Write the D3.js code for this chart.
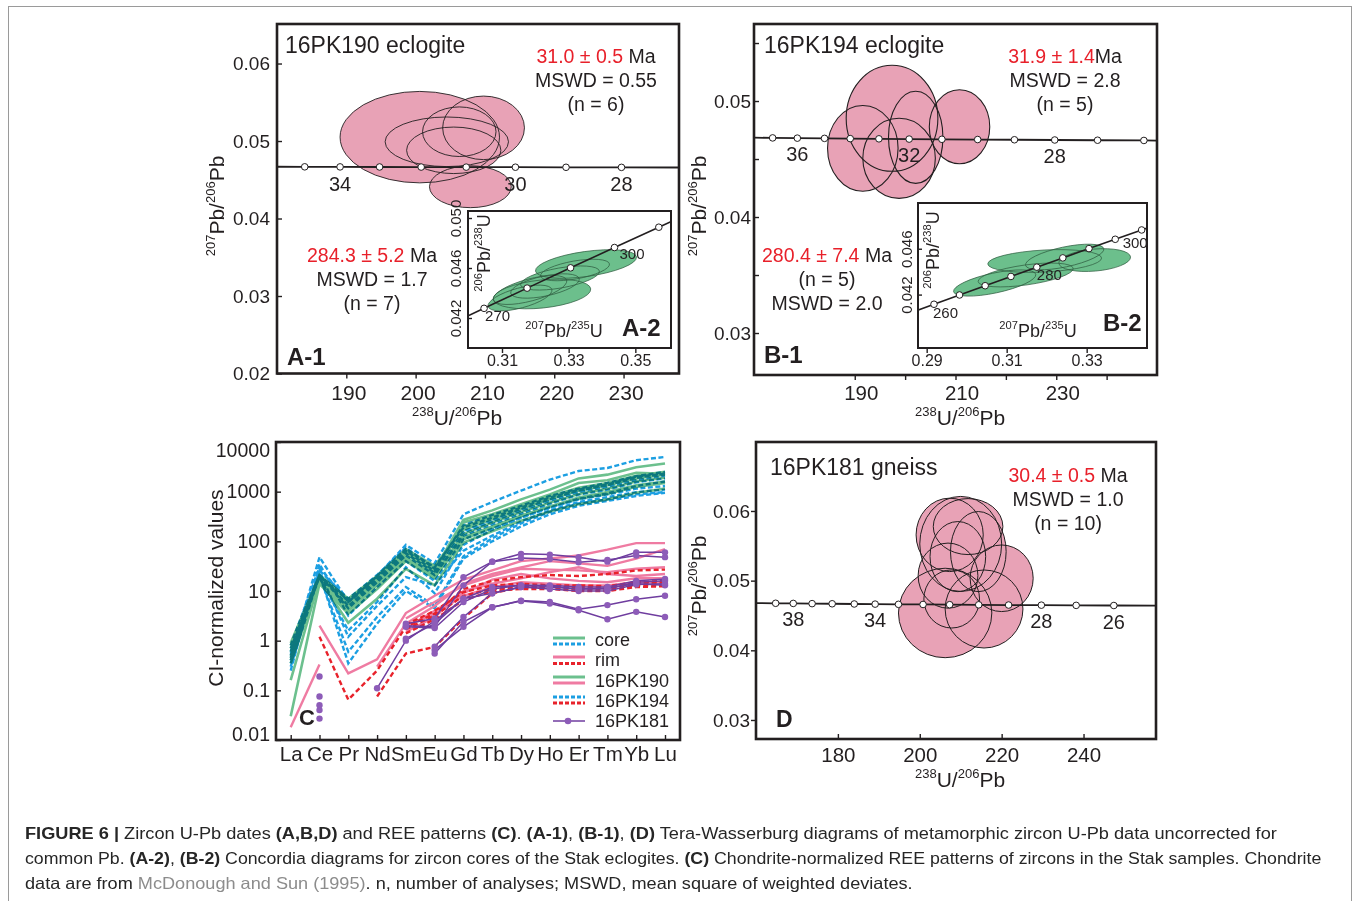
<!DOCTYPE html>
<html><head><meta charset="utf-8">
<script src="https://cdn.jsdelivr.net/npm/d3@7/dist/d3.min.js"></script>
<style>html,body{margin:0;padding:0;background:#fff;}svg{display:block;}</style>
</head><body>
<svg id="fig" width="1354" height="901"></svg>
<script>
// ======================= DATA =======================
// ---- Panel A-1 : 16PK190 eclogite, Tera-Wasserburg ----
const a1XTicks = [190, 200, 210, 220, 230];
const a1YTicks = [0.02, 0.03, 0.04, 0.05, 0.06];
const a1ConcX = [180.0, 184.0, 189.1, 194.8, 200.8, 207.3, 214.4, 221.7, 229.7, 238.0];
const a1ConcY = [0.04668, 0.04667, 0.04666, 0.04665, 0.04664, 0.04663, 0.04662, 0.04661, 0.04660, 0.04658];
const a1ConcAge = [null, 35, 34, 33, 32, 31, 30, 29, 28, null];
const a1AgeLabels = [34, 30, 28];
const a1EllX  = [200.6, 209.8, 204.5, 206.3, 205.5, 207.9];
const a1EllY  = [0.0505, 0.0517, 0.0499, 0.0512, 0.0488, 0.0441];
const a1EllSx = [11.5, 5.9, 8.9, 5.3, 6.8, 5.9];
const a1EllSy = [0.0059, 0.0041, 0.0032, 0.0032, 0.0030, 0.0027];
const a1Texts = ['16PK190 eclogite', '31.0 ± 0.5', ' Ma', 'MSWD = 0.55', '(n = 6)'];

// ---- Panel A-2 : 16PK190 concordia (inset) ----
const a2XTicks = [0.31, 0.33, 0.35];
const a2YTicks = [0.042, 0.046, 0.050];
const a2ConcX = [0.29183, 0.30462, 0.31753, 0.33057, 0.34374, 0.35704, 0.37047];
const a2ConcY = [0.041157, 0.042773, 0.044392, 0.046013, 0.047638, 0.049263, 0.050893];
const a2ConcAge = [null, 270, 280, 290, 300, 310, null];
const a2AgeLabels = [270, 300];
const a2EllX  = [0.3352, 0.3220, 0.3229, 0.3274, 0.3184, 0.3319, 0.3154];
const a2EllY  = [0.04632, 0.04392, 0.04456, 0.04520, 0.04424, 0.04584, 0.04360];
const a2EllSx = [0.0153, 0.0147, 0.0105, 0.0120, 0.0114, 0.0105, 0.0099];
const a2EllSy = [0.00100, 0.00112, 0.00080, 0.00080, 0.00088, 0.00072, 0.00080];
const a2EllRot = [-8, -6, -12, -10, -15, -10, -15];
const a2Texts = ['284.3 ± 5.2', ' Ma', 'MSWD = 1.7', '(n = 7)'];

// ---- Panel B-1 : 16PK194 eclogite ----
const b1XTicks = [190, 200, 210, 220, 230, 240];
const b1XLabels = [190, 210, 230];
const b1YTicks = [0.03, 0.035, 0.04, 0.045, 0.05, 0.055];
const b1YLabels = [0.03, 0.04, 0.05];
const b1ConcX = [170.0, 173.7, 178.6, 184.0, 189.1, 194.8, 200.8, 207.3, 214.4, 221.7, 229.7, 238.2, 247.4, 250.0];
const b1ConcY = [0.04684, 0.04682, 0.04680, 0.04678, 0.04676, 0.04674, 0.04672, 0.04670, 0.04668, 0.04666, 0.04664, 0.04662, 0.04660, 0.04658];
const b1ConcAge = [null, 37, 36, 35, 34, 33, 32, 31, 30, 29, 28, 27, 26, null];
const b1AgeLabels = [36, 32, 28];
const b1EllX  = [197.4, 191.6, 198.8, 202.1, 210.8];
const b1EllY  = [0.04851, 0.04592, 0.04506, 0.04687, 0.04778];
const b1EllSx = [9.1, 7.0, 7.2, 5.4, 6.0];
const b1EllSy = [0.00457, 0.00370, 0.00345, 0.00397, 0.00319];
const b1Texts = ['16PK194 eclogite', '31.9 ± 1.4', 'Ma', 'MSWD = 2.8', '(n = 5)'];

// ---- Panel B-2 : 16PK194 concordia (inset) ----
const b2XTicks = [0.29, 0.31, 0.33];
const b2YTicks = [0.042, 0.046];
const b2ConcX = [0.27917, 0.29183, 0.29821, 0.30462, 0.31106, 0.31753, 0.32403, 0.33057, 0.33714, 0.34374, 0.35704];
const b2ConcY = [0.039543, 0.041157, 0.041965, 0.042773, 0.043582, 0.044392, 0.045202, 0.046013, 0.046825, 0.047638, 0.049263];
const b2ConcAge = [null, 260, 265, 270, 275, 280, 285, 290, 295, 300, null];
const b2AgeLabels = [260, 280, 300];
const b2EllX  = [0.3195, 0.3320, 0.3070, 0.31475, 0.3245];
const b2EllY  = [0.04493, 0.04501, 0.04301, 0.04371, 0.04528];
const b2EllSx = [0.01425, 0.0090, 0.0105, 0.0120, 0.0100];
const b2EllSy = [0.00096, 0.00096, 0.00087, 0.00087, 0.00087];
const b2EllRot = [-3, -5, -12, -8, -12];
const b2Texts = ['280.4 ± 7.4', ' Ma', '(n = 5)', 'MSWD = 2.0'];

// ---- Panel D : 16PK181 gneiss ----
const dXTicks = [180, 200, 220, 240];
const dYTicks = [0.03, 0.04, 0.05, 0.06];
const dConcX = [160.0, 164.8, 169.1, 173.7, 178.6, 184.0, 189.1, 194.8, 200.8, 207.3, 214.4, 221.7, 229.7, 238.2, 247.4, 257.7];
const dConcY = [0.04678, 0.04675, 0.04673, 0.04670, 0.04668, 0.04665, 0.04663, 0.04660, 0.04658, 0.04655, 0.04653, 0.04650, 0.04648, 0.04645, 0.04643, 0.04640];
const dConcAge = [null, 39, 38, 37, 36, 35, 34, 33, 32, 31, 30, 29, 28, 27, 26, null];
const dAgeLabels = [38, 34, 28, 26];
const dEllX  = [206.2, 215.7, 220.0, 207.3, 210.0, 214.3, 206.9, 209.3, 207.8, 211.8];
const dEllY  = [0.04536, 0.04593, 0.05034, 0.05657, 0.05527, 0.05417, 0.05072, 0.05345, 0.04737, 0.05776];
const dEllSx = [11.4, 9.5, 7.7, 8.2, 10.0, 6.8, 7.3, 6.8, 6.8, 8.5];
const dEllSy = [0.00642, 0.00560, 0.00478, 0.00527, 0.00682, 0.00575, 0.00467, 0.00503, 0.00417, 0.00402];
const dTexts = ['16PK181 gneiss', '30.4 ± 0.5', ' Ma', 'MSWD = 1.0', '(n = 10)'];

// ---- Panel C : chondrite-normalised REE ----
const reeElements = ['La','Ce','Pr','Nd','Sm','Eu','Gd','Tb','Dy','Ho','Er','Tm','Yb','Lu'];
const reeYTicks = [0.01, 0.1, 1, 10, 100, 1000, 10000];
const reeYTickLabels = ['0.01', '0.1', '1', '10', '100', '1000', '10000'];
const core190 = [
  [0.16, 17, 2.3, 7, 28, 13, 95, 160, 260, 400, 560, 700, 950, 1150],
  [0.03, 14, 3.5, 11, 40, 18, 120, 200, 330, 500, 720, 900, 1250, 1500],
  [0.6, 19, 6, 18, 62, 27, 270, 420, 700, 1100, 1850, 2200, 3100, 3700],
  [0.5, 18, 5, 16, 55, 24, 240, 350, 560, 880, 1500, 1700, 2400, 2300],
  [0.7, 20, 6.5, 19, 65, 30, 170, 280, 450, 700, 1050, 1350, 1850, 2200],
  [0.4, 17, 4.5, 14, 48, 21, 140, 240, 390, 600, 900, 1150, 1600, 1900],
  [0.9, 21, 7, 20, 70, 32, 190, 310, 500, 780, 1150, 1450, 2000, 2400],
  [0.35, 16, 4, 13, 45, 19, 110, 190, 320, 500, 760, 980, 1350, 1600],
  [0.45, 18, 5.5, 17, 58, 26, 180, 290, 470, 740, 1100, 1400, 1900, 2300],
  [0.8, 19, 6, 17, 60, 25, 200, 320, 520, 800, 1200, 1500, 2100, 2500]
];
const core194 = [
  [0.5, 48, 6, 20, 85, 36, 350, 620, 1050, 1750, 2600, 3000, 4300, 5000],
  [0.4, 25, 1.2, 5, 19, 13, 65, 130, 250, 420, 620, 780, 980, 1100],
  [0.3, 22, 0.35, 2.2, 10, 4.5, 45, 100, 200, 350, 520, 650, 820, 950],
  [0.6, 20, 0.6, 3, 12, 5, 50, 115, 230, 390, 580, 700, 880, 980],
  [0.8, 30, 6, 17, 65, 25, 160, 270, 440, 700, 1050, 1350, 1900, 2300],
  [0.45, 21, 4.5, 15, 52, 21, 130, 220, 360, 570, 870, 1100, 1550, 1850],
  [0.35, 26, 7, 21, 75, 28, 210, 340, 520, 820, 1150, 1500, 2050, 2500],
  [0.55, 19, 1.6, 6, 30, 9, 85, 170, 300, 480, 700, 880, 1150, 1300],
  [0.25, 35, 3.2, 12, 40, 16, 110, 180, 300, 470, 720, 920, 1300, 1600],
  [0.6, 22, 5, 16, 58, 23, 150, 250, 410, 650, 980, 1250, 1700, 2100],
  [0.7, 20, 6.5, 19, 68, 30, 190, 300, 480, 760, 1100, 1400, 2000, 2300]
];
const rim190 = [
  [0.018, 0.33, null, null, null, null, null, null, null, null, null, null, null, null],
  [null, 2.0, 0.22, 0.42, 3.6, 8, 17, 26, 40, 45, 52, 68, 92, 92],
  [null, null, null, 0.3, 2.2, 5, 14, 22, 30, 40, 36, 32, 45, 70],
  [null, null, null, null, 2.8, 6, 13, 20, 28, 27, 26, 24, 28, 30],
  [null, null, null, null, 1.8, 4, 9, 17, 22, 18, 16, 15, 18, 18],
  [null, null, null, null, 2.0, 3.5, 8, 12, 15, 14, 13, 13, 15, 15],
  [null, null, null, null, 1.5, 3, 10, 14, 18, 24, 30, 22, 20, 22]
];
const rim194 = [
  [null, 1.2, 0.065, 0.25, 1.9, 3.5, 11, 16, 19, 21, 20, 22, 26, 27],
  [null, null, null, 0.075, 0.55, 0.75, 2.8, 9, 12, 12, 11, 11, 13, 13],
  [null, null, null, null, 1.7, 3.2, 8, 11, 12, 12, 12, 12, 14, 15],
  [null, null, null, null, 1.4, 2.7, 6.5, 10, 11, 11, 10, 10, 12, 12.5],
  [null, null, null, null, 2.1, 4, 9.5, 13, 14, 13, 13, 12.5, 15, 16]
];
const gneiss181 = [
  [null, 0.19, null, null, 2.2, 2.8, 19, 39, 56, 54, 48, 39, 60, 60],
  [null, 0.075, null, null, 2.0, 1.9, 13, 39, 46, 44, 38, 42, 52, 48],
  [null, 0.05, null, null, 1.1, 2.2, 7, 12, 13, 13, 12, 12, 16, 17.5],
  [null, 0.04, null, 0.11, 1.0, 2.5, 7, 9, 12, 11, 10, 10, 13.5, 14],
  [null, 0.027, null, null, null, 0.76, 3, 9, 12, 12, 11, 11, 15, 16],
  [null, null, null, null, null, 0.55, 2.4, 4.7, 6.4, 6, 4.3, 5.2, 6.8, 8],
  [null, null, null, null, null, 0.65, 1.9, 4.7, 6.3, 5.6, 4.1, 2.7, 3.8, 3.0],
  [null, null, null, null, 1.9, 1.8, 6, 11, 13, 12.5, 11, 11.5, 14, 13]
];
const legendLabels = ['core', 'rim', '16PK190', '16PK194', '16PK181'];

// caption
const captionLines = [
  [['FIGURE 6 |', 'b'], [' Zircon U-Pb dates ', ''], ['(A,B,D)', 'b'], [' and REE patterns ', ''], ['(C)', 'b'], ['. ', ''], ['(A-1)', 'b'], [', ', ''], ['(B-1)', 'b'], [', ', ''], ['(D)', 'b'], [' Tera-Wasserburg diagrams of metamorphic zircon U-Pb data uncorrected for', '']],
  [['common Pb. ', ''], ['(A-2)', 'b'], [', ', ''], ['(B-2)', 'b'], [' Concordia diagrams for zircon cores of the Stak eclogites. ', ''], ['(C)', 'b'], [' Chondrite-normalized REE patterns of zircons in the Stak samples. Chondrite', '']],
  [['data are from ', ''], ['McDonough and Sun (1995)', 'g'], ['. n, number of analyses; MSWD, mean square of weighted deviates.', '']]
];
const captionWidths = [1253, 1297, 888];

// ======================= DRAW =======================
const svg = d3.select('#fig');
const FONT = '"Liberation Sans", Arial, Helvetica, sans-serif';
svg.attr('font-family', FONT);
const INK = '#231f20', RED = '#e8202a', PINK_FILL = '#e8a2b6', GREEN_FILL = '#6cbf8c';
const C_GREEN = '#6cc08e', C_BLUE = '#1c9fe2', C_PINK = '#ef7ba2', C_RED = '#e8222b', C_PURPLE = '#6f3d9f', C_PURPLE_DOT = '#8d5cb8';

svg.append('rect').attr('x', 8.5).attr('y', 6.5).attr('width', 1343).attr('height', 910)
  .attr('fill', 'none').attr('stroke', '#9a9a9a').attr('stroke-width', 1);

function isoText(g, x, y, parts, fs, rotate) {
  const t = g.append('text').attr('x', x).attr('y', y).attr('font-size', fs).attr('fill', INK)
    .attr('text-anchor', 'middle');
  if (rotate) t.attr('transform', `rotate(-90 ${x} ${y})`);
  const supFs = fs * 0.62, rise = fs * 0.42;
  let cur = 0;
  parts.forEach(([s, sup]) => {
    const target = sup ? -rise : 0;
    t.append('tspan').attr('font-size', sup ? supFs : fs).attr('dy', target - cur).text(s);
    cur = target;
  });
  return t;
}

function styleAxis(sel, fs) {
  sel.select('.domain').remove();
  sel.attr('font-family', null).attr('font-size', null);
  sel.selectAll('line').attr('stroke', INK).attr('stroke-width', 1.4);
  sel.selectAll('text').attr('fill', INK).attr('font-size', fs).attr('font-family', FONT);
}

function drawEllipses(g, x, y, ex, ey, esx, esy, erot, fill, stroke, sw) {
  const data = ex.map((d, i) => ({ cx: d, cy: ey[i], sx: esx[i], sy: esy[i], r: erot ? erot[i] : 0 }));
  const mk = () => g.append('g').selectAll('ellipse').data(data).join('ellipse')
    .attr('cx', d => x(d.cx)).attr('cy', d => y(d.cy))
    .attr('rx', d => Math.abs(x(d.cx + d.sx) - x(d.cx)))
    .attr('ry', d => Math.abs(y(d.cy + d.sy) - y(d.cy)))
    .attr('transform', d => `rotate(${d.r} ${x(d.cx)} ${y(d.cy)})`);
  mk().attr('fill', fill).attr('stroke', 'none');
  mk().attr('fill', 'none').attr('stroke', stroke).attr('stroke-width', sw);
}

function drawConcordia(g, x, y, cx, cy, ages, labelAges, labelPos, r, fs, lw) {
  const line = d3.line().x((d, i) => x(cx[i])).y((d, i) => y(cy[i]));
  g.append('path').attr('d', line(cx)).attr('fill', 'none').attr('stroke', INK).attr('stroke-width', lw);
  const pts = cx.map((d, i) => ({ x: d, y: cy[i], age: ages[i] })).filter(d => d.age != null);
  g.append('g').selectAll('circle').data(pts).join('circle')
    .attr('cx', d => x(d.x)).attr('cy', d => y(d.y)).attr('r', r)
    .attr('fill', '#fff').attr('stroke', INK).attr('stroke-width', 1);
  const lab = pts.filter(d => labelAges.includes(d.age));
  g.append('g').selectAll('text').data(lab).join('text')
    .attr('x', (d, i) => x(d.x) + labelPos(i)[0]).attr('y', (d, i) => y(d.y) + labelPos(i)[1])
    .attr('text-anchor', (d, i) => labelPos(i)[2]).attr('font-size', fs).attr('fill', INK)
    .text(d => d.age);
}

function frame(g, L, T, R, B, sw, fill) {
  return g.append('rect').attr('x', L).attr('y', T).attr('width', R - L).attr('height', B - T)
    .attr('fill', fill || 'none').attr('stroke', INK).attr('stroke-width', sw);
}

function clip(g, id, L, T, R, B) {
  svg.append('clipPath').attr('id', id).append('rect').attr('x', L).attr('y', T).attr('width', R - L).attr('height', B - T);
  return g.append('g').attr('clip-path', `url(#${id})`);
}

function ageBlock(g, cx, y0, redTxt, blackTxt, lines, fs, gap) {
  const t = g.append('text').attr('x', cx).attr('y', y0).attr('text-anchor', 'middle').attr('font-size', fs);
  t.append('tspan').attr('fill', RED).text(redTxt);
  t.append('tspan').attr('fill', INK).text(blackTxt);
  lines.forEach((s, i) => g.append('text').attr('x', cx).attr('y', y0 + gap * (i + 1))
    .attr('text-anchor', 'middle').attr('font-size', fs).attr('fill', INK).text(s));
}

function panelLetter(g, x, y, s, fs) {
  g.append('text').attr('x', x).attr('y', y).attr('font-size', fs).attr('font-weight', 'bold').attr('fill', INK).text(s);
}

const fmt2 = d3.format('.2f'), fmt3 = d3.format('.3f');
const TWX = [['238', 1], ['U/', 0], ['206', 1], ['Pb', 0]];
const TWY = [['207', 1], ['Pb/', 0], ['206', 1], ['Pb', 0]];
const CX = [['207', 1], ['Pb/', 0], ['235', 1], ['U', 0]];
const CY = [['206', 1], ['Pb/', 0], ['238', 1], ['U', 0]];

// ---------------- Panel A-1 ----------------
{
  const L = 277, R = 679, T = 24, B = 373.5;
  const g = svg.append('g');
  const x = d3.scaleLinear().domain([180, 238]).range([L, R]);
  const y = d3.scaleLinear().domain([0.02, 0.0651]).range([B, T]);
  const inner = clip(g, 'cA1', L, T, R, B);
  drawEllipses(inner, x, y, a1EllX, a1EllY, a1EllSx, a1EllSy, null, PINK_FILL, INK, 0.9);
  drawConcordia(inner, x, y, a1ConcX, a1ConcY, a1ConcAge, a1AgeLabels, () => [0, 24, 'middle'], 3.3, 20, 1.8);
  g.append('g').attr('transform', `translate(0,${B})`)
    .call(d3.axisBottom(x).tickValues(a1XTicks).tickSizeInner(5).tickSizeOuter(0).tickPadding(7).tickFormat(d3.format('d')))
    .call(s => styleAxis(s, 21))
    .call(s => s.selectAll('text').attr('dx', 2));
  g.append('g').attr('transform', `translate(${L},0)`)
    .call(d3.axisLeft(y).tickValues(a1YTicks).tickSizeInner(-5).tickSizeOuter(0).tickPadding(7).tickFormat(fmt2))
    .call(s => styleAxis(s, 19));
  g.append('text').attr('x', 285).attr('y', 53).attr('font-size', 23).attr('fill', INK).text(a1Texts[0]);
  ageBlock(g, 596, 63, a1Texts[1], a1Texts[2], [a1Texts[3], a1Texts[4]], 19.5, 24);
  ageBlock(g, 372, 262, a2Texts[0], a2Texts[1], [a2Texts[2], a2Texts[3]], 19.5, 24);
  panelLetter(g, 287, 365, 'A-1', 24);
  isoText(g, 457, 425, TWX, 21, false);
  isoText(g, 224, 206, TWY, 21, true);

  // ---- inset A-2 ----
  const l = 468, r = 671, t = 211, b = 348;
  const xi = d3.scaleLinear().domain([0.2998, 0.3607]).range([l, r]);
  const yi = d3.scaleLinear().domain([0.0396, 0.05056]).range([b, t]);
  g.append('rect').attr('x', l).attr('y', t).attr('width', r - l).attr('height', b - t).attr('fill', '#fff');
  const ii = clip(g, 'cA2', l, t, r, b);
  drawEllipses(ii, xi, yi, a2EllX, a2EllY, a2EllSx, a2EllSy, a2EllRot, GREEN_FILL, '#2f5c40', 0.7);
  drawConcordia(ii, xi, yi, a2ConcX, a2ConcY, a2ConcAge, a2AgeLabels,
    i => [[1, 13, 'start'], [5, 11, 'start']][i], 3.3, 15, 1.6);
  g.append('g').attr('transform', `translate(0,${b})`)
    .call(d3.axisBottom(xi).tickValues(a2XTicks).tickSizeInner(5).tickSizeOuter(0).tickPadding(2).tickFormat(fmt2))
    .call(s => styleAxis(s, 16));
  const ay = g.append('g').attr('transform', `translate(${l},0)`)
    .call(d3.axisLeft(yi).tickValues(a2YTicks).tickSizeInner(-4).tickSizeOuter(0).tickPadding(6).tickFormat(fmt3))
    .call(s => styleAxis(s, 15));
  ay.selectAll('text').attr('transform', 'rotate(-90)').attr('x', 0).attr('y', -7).attr('dy', 0).attr('text-anchor', 'middle');
  frame(g, l, t, r, b, 2);
  isoText(g, 564, 337, CX, 18, false);
  isoText(g, 490, 253, CY, 18, true);
  panelLetter(g, 622, 336, 'A-2', 24);
  frame(g, L, T, R, B, 2.6);
}

// ---------------- Panel B-1 ----------------
{
  const L = 754, R = 1157, T = 24, B = 375;
  const g = svg.append('g');
  const x = d3.scaleLinear().domain([170, 250]).range([L, R]);
  const y = d3.scaleLinear().domain([0.02638, 0.05664]).range([B, T]);
  const inner = clip(g, 'cB1', L, T, R, B);
  drawEllipses(inner, x, y, b1EllX, b1EllY, b1EllSx, b1EllSy, null, PINK_FILL, INK, 1.1);
  drawConcordia(inner, x, y, b1ConcX, b1ConcY, b1ConcAge, b1AgeLabels, () => [0, 23, 'middle'], 3.3, 20, 1.8);
  g.append('g').attr('transform', `translate(0,${B})`)
    .call(d3.axisBottom(x).tickValues(b1XTicks).tickSizeInner(5).tickSizeOuter(0).tickPadding(5)
      .tickFormat(d => b1XLabels.includes(d) ? d : ''))
    .call(s => styleAxis(s, 20.5))
    .call(s => s.selectAll('text').attr('dx', 6));
  g.append('g').attr('transform', `translate(${L},0)`)
    .call(d3.axisLeft(y).tickValues(b1YTicks).tickSizeInner(-5).tickSizeOuter(0).tickPadding(3)
      .tickFormat(d => b1YLabels.some(v => Math.abs(v - d) < 1e-9) ? fmt2(d) : ''))
    .call(s => styleAxis(s, 19));
  g.append('text').attr('x', 764).attr('y', 53).attr('font-size', 23).attr('fill', INK).text(b1Texts[0]);
  ageBlock(g, 1065, 63, b1Texts[1], b1Texts[2], [b1Texts[3], b1Texts[4]], 19.5, 24);
  ageBlock(g, 827, 262, b2Texts[0], b2Texts[1], [b2Texts[2], b2Texts[3]], 19.5, 24);
  panelLetter(g, 764, 363, 'B-1', 24);
  isoText(g, 960, 425, TWX, 21, false);
  isoText(g, 706, 206, TWY, 21, true);

  // ---- inset B-2 ----
  const l = 918, r = 1147, t = 203, b = 348;
  const xi = d3.scaleLinear().domain([0.28783, 0.34508]).range([l, r]);
  const yi = d3.scaleLinear().domain([0.03734, 0.04999]).range([b, t]);
  g.append('rect').attr('x', l).attr('y', t).attr('width', r - l).attr('height', b - t).attr('fill', '#fff');
  const ii = clip(g, 'cB2', l, t, r, b);
  drawEllipses(ii, xi, yi, b2EllX, b2EllY, b2EllSx, b2EllSy, b2EllRot, GREEN_FILL, '#2f5c40', 0.7);
  drawConcordia(ii, xi, yi, b2ConcX, b2ConcY, b2ConcAge, b2AgeLabels,
    i => [[-1, 14, 'start'], [0, 13, 'start'], [-19, 18, 'start']][i], 3.3, 15, 1.6);
  g.append('g').attr('transform', `translate(0,${b})`)
    .call(d3.axisBottom(xi).tickValues(b2XTicks).tickSizeInner(5).tickSizeOuter(0).tickPadding(2).tickFormat(fmt2))
    .call(s => styleAxis(s, 16));
  const by = g.append('g').attr('transform', `translate(${l},0)`)
    .call(d3.axisLeft(yi).tickValues(b2YTicks).tickSizeInner(-4).tickSizeOuter(0).tickPadding(6).tickFormat(fmt3))
    .call(s => styleAxis(s, 15));
  by.selectAll('text').attr('transform', 'rotate(-90)').attr('x', 0).attr('y', -6).attr('dy', 0).attr('text-anchor', 'middle');
  frame(g, l, t, r, b, 2);
  isoText(g, 1038, 337, CX, 18, false);
  isoText(g, 939, 250, CY, 18, true);
  panelLetter(g, 1103, 331, 'B-2', 24);
  frame(g, L, T, R, B, 2.6);
}

// ---------------- Panel D ----------------
{
  const L = 756, R = 1156, T = 442, B = 739;
  const g = svg.append('g');
  const x = d3.scaleLinear().domain([160, 257.7]).range([L, R]);
  const y = d3.scaleLinear().domain([0.02727, 0.0699]).range([B, T]);
  const inner = clip(g, 'cD', L, T, R, B);
  drawEllipses(inner, x, y, dEllX, dEllY, dEllSx, dEllSy, null, PINK_FILL, INK, 1.0);
  drawConcordia(inner, x, y, dConcX, dConcY, dConcAge, dAgeLabels, () => [0, 23, 'middle'], 3.3, 20, 1.8);
  g.append('g').attr('transform', `translate(0,${B})`)
    .call(d3.axisBottom(x).tickValues(dXTicks).tickSizeInner(-5).tickSizeOuter(0).tickPadding(8).tickFormat(d3.format('d')))
    .call(s => styleAxis(s, 20.5));
  g.append('g').attr('transform', `translate(${L},0)`)
    .call(d3.axisLeft(y).tickValues(dYTicks).tickSizeInner(5).tickSizeOuter(0).tickPadding(1).tickFormat(fmt2))
    .call(s => styleAxis(s, 19));
  g.append('text').attr('x', 770).attr('y', 475).attr('font-size', 23).attr('fill', INK).text(dTexts[0]);
  ageBlock(g, 1068, 482, dTexts[1], dTexts[2], [dTexts[3], dTexts[4]], 19.5, 24);
  panelLetter(g, 776, 727, 'D', 23);
  isoText(g, 960, 787, TWX, 21, false);
  isoText(g, 706, 586, TWY, 21, true);
  frame(g, L, T, R, B, 2.6);
}

// ---------------- Panel C ----------------
{
  const L = 276, R = 680, T = 442, B = 740;
  const g = svg.append('g');
  const x = d3.scalePoint().domain(reeElements).range([290.7, 665]);
  const y = d3.scaleLog().domain([0.01, 10000]).range([B, T]);
  const inner = clip(g, 'cC', L, T, R, B);
  const line = d3.line().defined(d => d != null).x((d, i) => x(reeElements[i])).y(d => y(d));
  const draw = (rows, color, w, dash) => inner.append('g')
    .selectAll('path').data(rows).join('path')
    .attr('d', line).attr('fill', 'none').attr('stroke', color).attr('stroke-width', w)
    .attr('stroke-dasharray', dash || null);
  const cores = inner.append('g').style('isolation', 'isolate');
  const drawIn = (parent, rows, color, w, dash) => parent.append('g').style('mix-blend-mode', 'multiply')
    .selectAll('path').data(rows).join('path')
    .attr('d', line).attr('fill', 'none').attr('stroke', color).attr('stroke-width', w)
    .attr('stroke-dasharray', dash || null);
  drawIn(cores, core190, C_GREEN, 2.6);
  drawIn(cores, core194, C_BLUE, 2.4, '5,2.5');
  draw(rim190, C_PINK, 2.4);
  draw(rim194, C_RED, 2.4, '5,3');
  draw(gneiss181, C_PURPLE, 1.5);
  const dots = [];
  gneiss181.forEach(row => row.forEach((v, i) => { if (v != null) dots.push({ e: reeElements[i], v }); }));
  inner.append('g').selectAll('circle').data(dots).join('circle')
    .attr('cx', d => x(d.e)).attr('cy', d => y(d.v)).attr('r', 3.2).attr('fill', C_PURPLE_DOT);

  g.append('g').attr('transform', `translate(0,${B})`)
    .call(d3.axisBottom(x).tickSizeInner(-5).tickSizeOuter(0).tickPadding(6))
    .call(s => styleAxis(s, 20.5));
  const ya = g.append('g').attr('transform', `translate(${L},0)`)
    .call(d3.axisLeft(y).tickValues(reeYTicks).tickSizeInner(-5).tickSizeOuter(0).tickPadding(6)
      .tickFormat((d, i) => reeYTickLabels[i]))
    .call(s => styleAxis(s, 19.5));
  ya.selectAll('.tick').filter(d => d === 10000).select('text').attr('dy', '0.72em');
  ya.selectAll('.tick').filter(d => d === 0.01).select('text').attr('dy', '0.05em');
  g.append('text').attr('transform', 'translate(223,588) rotate(-90)').attr('text-anchor', 'middle')
    .attr('font-size', 21).attr('fill', INK).text('CI-normalized values');
  panelLetter(g, 299, 725, 'C', 22);

  // legend
  const lg = g.append('g');
  const x0 = 553, x1 = 585;
  const seg = (yy, color, dash, w) => lg.append('line').attr('x1', x0).attr('x2', x1).attr('y1', yy).attr('y2', yy)
    .attr('stroke', color).attr('stroke-width', w || 3).attr('stroke-dasharray', dash || null);
  seg(638, C_GREEN); seg(644, C_BLUE, '4,2');
  seg(657, C_PINK); seg(663.5, C_RED, '4,2');
  seg(677, C_GREEN); seg(683, C_PINK);
  seg(697, C_BLUE, '4,2'); seg(703, C_RED, '4,2');
  seg(721, C_PURPLE, null, 1.5);
  lg.append('circle').attr('cx', 568).attr('cy', 721).attr('r', 3.3).attr('fill', C_PURPLE_DOT);
  const ly = [646, 666, 687, 707, 727];
  legendLabels.forEach((s, i) => lg.append('text').attr('x', 595).attr('y', ly[i]).attr('font-size', 18).attr('fill', INK).text(s));
  frame(g, L, T, R, B, 2.6);
}

// ---------------- Caption ----------------
{
  const g = svg.append('g');
  const base = [839, 864, 889];
  captionLines.forEach((parts, k) => {
    const t = g.append('text').attr('x', 0).attr('y', 0).attr('font-size', 16.5).attr('fill', '#262626');
    parts.forEach(([s, st]) => {
      const ts = t.append('tspan').text(s);
      if (st === 'b') ts.attr('font-weight', 'bold');
      if (st === 'g') ts.attr('fill', '#8c8c8c');
    });
    const w = t.node().getComputedTextLength();
    const sx = captionWidths[k] / w;
    t.attr('transform', `translate(25,${base[k]}) scale(${sx},1)`);
  });
}
</script>
</body></html>
